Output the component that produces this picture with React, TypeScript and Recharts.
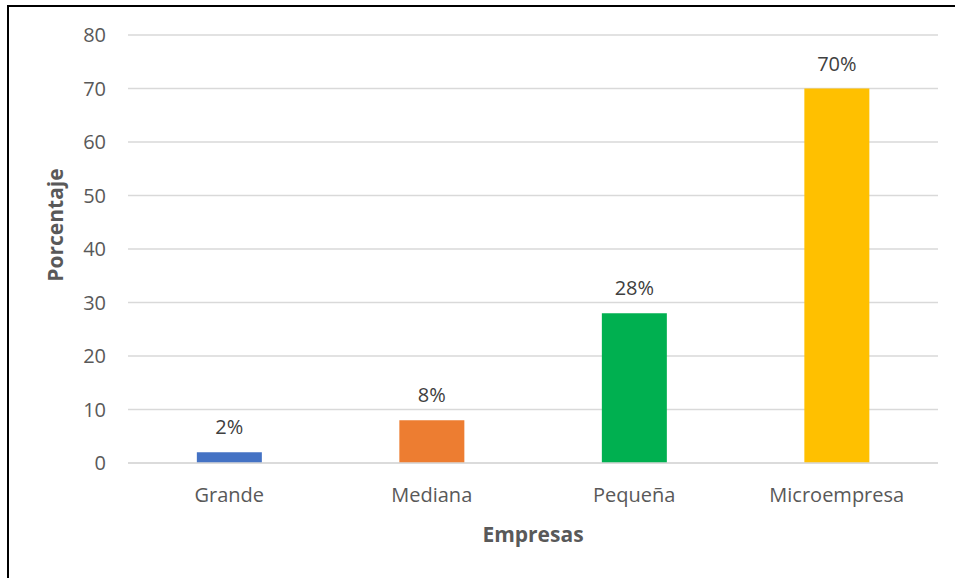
import { Bar, BarChart, CartesianGrid, Cell, LabelList, XAxis, YAxis } from "recharts";

const CATEGORIES = ["Grande", "Mediana", "Pequeña", "Microempresa"];
const VALUES = [2, 8, 28, 70];
const COLORS = ["#4472C4", "#ED7D31", "#00B050", "#FFC000"];
const Y_TICKS = [0, 10, 20, 30, 40, 50, 60, 70, 80];

const data = CATEGORIES.map((name, i) => ({ name, value: VALUES[i] }));

const FONT = "'Open Sans', sans-serif";
const tick = { fill: "#595959", fontSize: 20, fontFamily: FONT };

function YTitle({ viewBox }: { viewBox?: { x: number; y: number; width: number; height: number } }) {
  if (!viewBox) return null;
  const cx = 55;
  const cy = viewBox.y + viewBox.height / 2 - 24;
  return (
    <text
      x={cx}
      y={cy}
      transform={`rotate(-90 ${cx} ${cy})`}
      textAnchor="middle"
      dominantBaseline="central"
      fill="#595959"
      fontSize={21}
      fontWeight={700}
      fontFamily={FONT}
    >
      Porcentaje
    </text>
  );
}

export default function App() {
  return (
    <div
      style={{
        position: "fixed",
        left: 0,
        top: 0,
        width: 955,
        height: 578,
        background: "#fff",
        overflow: "hidden",
      }}
    >
      {/* frame of the original figure, runs off the right and bottom edges */}
      <div
        style={{
          position: "absolute",
          left: 7,
          top: 5,
          width: 980,
          height: 600,
          border: "2px solid #000",
          boxSizing: "border-box",
        }}
      />
      <div style={{ position: "absolute", left: 0, top: 0 }}>
        <BarChart
          width={955}
          height={578}
          data={data}
          margin={{ top: 35, right: 17, bottom: 0, left: 0 }}
          barCategoryGap="34%"
        >
          <CartesianGrid vertical={false} stroke="#D9D9D9" strokeWidth={1.5} />
          <XAxis
            dataKey="name"
            height={115}
            axisLine={{ stroke: "#D9D9D9", strokeWidth: 1.5 }}
            tickLine={false}
            tickSize={0}
            tickMargin={25}
            tick={tick}
            label={{
              value: "Empresas",
              position: "insideBottom",
              offset: 36,
              fill: "#595959",
              fontSize: 21,
              fontWeight: 700,
              fontFamily: FONT,
            }}
          />
          <YAxis
            width={128}
            domain={[0, 80]}
            ticks={Y_TICKS}
            axisLine={false}
            tickLine={false}
            tickSize={0}
            tickMargin={22}
            tick={tick}
            label={<YTitle />}
          />
          <Bar dataKey="value" isAnimationActive={false}>
            {data.map((d, i) => (
              <Cell key={d.name} fill={COLORS[i]} />
            ))}
            <LabelList
              dataKey="value"
              position="top"
              offset={18}
              formatter={(v: number) => `${v}%`}
              fill="#404040"
              fontSize={20}
              fontFamily={FONT}
            />
          </Bar>
        </BarChart>
      </div>
    </div>
  );
}
